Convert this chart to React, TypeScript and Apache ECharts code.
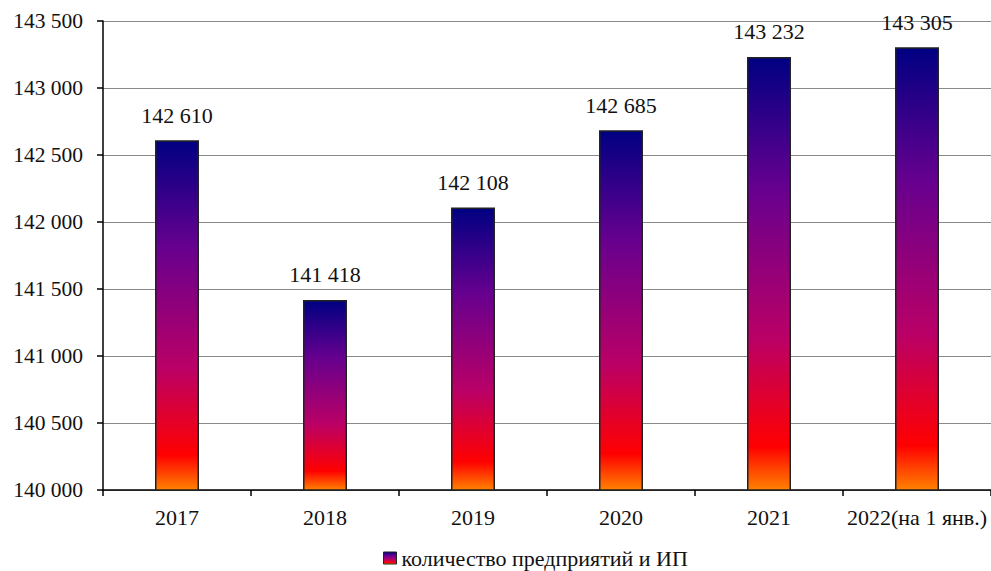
import React, { useEffect, useRef } from "react";
import * as echarts from "echarts";

const categories = ["2017", "2018", "2019", "2020", "2021", "2022(на 1 янв.)"];
const values = [142610, 141418, 142108, 142685, 143232, 143305];
const seriesName = "количество предприятий и ИП";
const yMin = 140000;
const yMax = 143500;
const yStep = 500;

const fmt = (v: number) => String(Math.round(v)).replace(/\B(?=(\d{3})+(?!\d))/g, " ");

const FONT = "Liberation Serif";

export default function App() {
  const ref = useRef<HTMLDivElement>(null);
  useEffect(() => {
    if (!ref.current) return;
    const chart = echarts.init(ref.current, undefined, { renderer: "svg" });
    const grad = new echarts.graphic.LinearGradient(0, 0, 0, 1, [
      { offset: 0, color: "#000082" },
      { offset: 0.3, color: "#66008F" },
      { offset: 0.65, color: "#BA0066" },
      { offset: 0.9, color: "#FF0000" },
      { offset: 1, color: "#FF8200" },
    ]);
    chart.setOption({
      animation: false,
      backgroundColor: "#ffffff",
      textStyle: { fontFamily: FONT },
      grid: { left: 103, top: 21, right: -6, bottom: 81, containLabel: false },
      legend: {
        data: [seriesName],
        left: 383,
        top: 547,
        padding: 0,
        icon: "rect",
        itemWidth: 13,
        itemHeight: 12,
        itemGap: 4,
        itemStyle: { borderColor: "#222", borderWidth: 1 },
        textStyle: { fontFamily: FONT, fontSize: 22, lineHeight: 22, color: "#111" },
      },
      xAxis: {
        type: "category",
        data: categories,
        boundaryGap: true,
        axisLine: { lineStyle: { color: "#000", width: 1.5 } },
        axisTick: { show: true, length: 6, lineStyle: { color: "#000", width: 1.5 } },
        axisLabel: { fontFamily: FONT, fontSize: 22, color: "#111", margin: 16, interval: 0 },
      },
      yAxis: {
        type: "value",
        min: yMin,
        max: yMax,
        interval: yStep,
        axisLine: { show: true, lineStyle: { color: "#000", width: 1.5 } },
        axisTick: { show: true, length: 6, lineStyle: { color: "#000", width: 1.5 } },
        axisLabel: {
          fontFamily: FONT,
          fontSize: 21.5,
          color: "#111",
          margin: 20,
          formatter: (v: number) => fmt(v),
        },
        splitLine: { show: true, lineStyle: { color: "#8a8a8a", width: 1 } },
      },
      series: [
        {
          name: seriesName,
          type: "bar",
          data: values,
          barWidth: 44,
          itemStyle: { color: grad, borderColor: "#222", borderWidth: 1.5 },
          label: {
            show: true,
            position: "top",
            distance: 14,
            fontFamily: FONT,
            fontSize: 22,
            color: "#111",
            formatter: (p: any) => fmt(p.value),
          },
        },
      ],
    });
    return () => chart.dispose();
  }, []);
  return (
    <div
      ref={ref}
      style={{ position: "fixed", left: 0, top: 0, width: 991, height: 571 }}
    />
  );
}
